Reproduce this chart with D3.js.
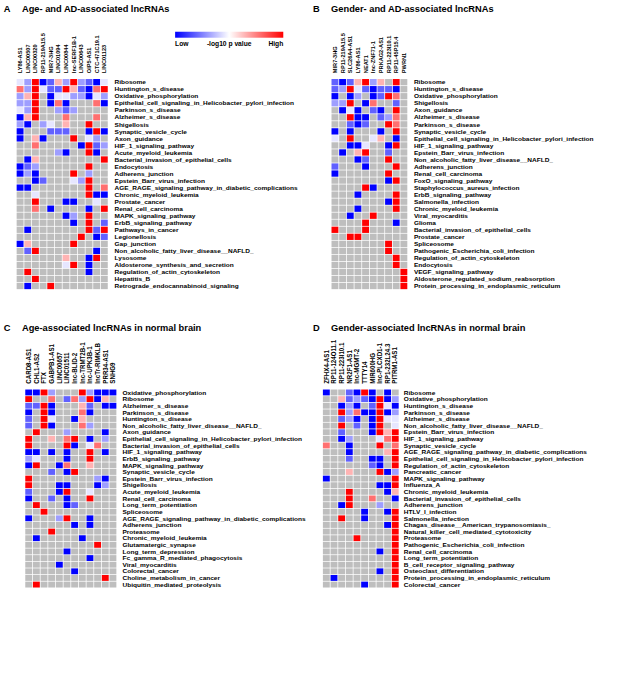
<!DOCTYPE html>
<html>
<head>
<meta charset="utf-8">
<script src="https://cdn.jsdelivr.net/npm/d3@7"></script>
<style>
  body { margin: 0; background: #fff; }
  text { font-family: "Liberation Sans", Arial, sans-serif; font-weight: bold; fill: #000; }
</style>
</head>
<body>
<div id="chart"></div>
<script>
// cell codes: B strong blue .. w white .. R strong red, g = not significant (grey)
var codeValue = {B: 0, b: 0.19, l: 0.31, w: 0.45, p: 0.65, r: 0.78, R: 1}

var colsA = ['LY86-AS1', 'LINC00507', 'LINC00320', 'RP11-219A15.5', 'MIR7-3HG', 'LINC01094',
  'LINC00844', 'lnc-SERF1B-1', 'LINC00643', 'OIP5-AS1', 'CTC-471C19.1', 'LINC01123']
var rowsA = ['Ribosome', 'Huntington_s_disease', 'Oxidative_phosphorylation',
  'Epithelial_cell_signaling_in_Helicobacter_pylori_infection', 'Parkinson_s_disease',
  'Alzheimer_s_disease', 'Shigellosis', 'Synaptic_vesicle_cycle', 'Axon_guidance',
  'HIF_1_signaling_pathway', 'Acute_myeloid_leukemia', 'Bacterial_invasion_of_epithelial_cells',
  'Endocytosis', 'Adherens_junction', 'Epstein_Barr_virus_infection',
  'AGE_RAGE_signaling_pathway_in_diabetic_complications', 'Chronic_myeloid_leukemia',
  'Prostate_cancer', 'Renal_cell_carcinoma', 'MAPK_signaling_pathway', 'ErbB_signaling_pathway',
  'Pathways_in_cancer', 'Legionellosis', 'Gap_junction', 'Non_alcoholic_fatty_liver_disease__NAFLD_',
  'Lysosome', 'Aldosterone_synthesis_and_secretion', 'Regulation_of_actin_cytoskeleton',
  'Hepatitis_B', 'Retrograde_endocannabinoid_signaling']
var cellsA = ['wlRBbplRlbBw', 'rlRwbbRpbBrR', 'lpRgBwwllBwl', 'llRgBrBgggrB', 'wlRgglblgggg',
  'BpRgggrgggrg', 'lBglwgpggRgg', 'BgggbbbggBRB', 'BgpBgggRgwlg', 'ggrgggggBRbl',
  'ggggglBggRBg', 'gBpggggggggR', 'BblggggggRgg', 'BlBggggRglgg', 'ggBbgggwlRgg',
  'BBgggggggRgr', 'ggwggggggRBB', 'ggRgggBBggwg', 'ggrgBggggBgR', 'ggggggBlgRgg',
  'gggggggBgRgb', 'gBgggggggRbR', 'ggggggggRgBb', 'BpgggggRgggg', 'gbRgggggggBg',
  'ggggggpggBRg', 'ggggggwRgBgg', 'gRgggggggBgg', 'ggRggggggggg', 'gBggRggggggg']

var colsB = ['MIR7-3HG', 'RP11-219A15.5', 'SLC26A4-AS1', 'LY86-AS1', 'NEAT1', 'lnc-ZNF71-1',
  'PRKAG2-AS1', 'RP11-223I10.1', 'RP11-45P15.4', 'PWRN1']
var rowsB = ['Ribosome', 'Huntington_s_disease', 'Oxidative_phosphorylation', 'Shigellosis',
  'Axon_guidance', 'Alzheimer_s_disease', 'Parkinson_s_disease', 'Synaptic_vesicle_cycle',
  'Epithelial_cell_signaling_in_Helicobacter_pylori_infection', 'HIF_1_signaling_pathway',
  'Epstein_Barr_virus_infection', 'Non_alcoholic_fatty_liver_disease__NAFLD_', 'Adherens_junction',
  'Renal_cell_carcinoma', 'FoxO_signaling_pathway', 'Staphylococcus_aureus_infection',
  'ErbB_signaling_pathway', 'Salmonella_infection', 'Chronic_myeloid_leukemia', 'Viral_myocarditis',
  'Glioma', 'Bacterial_invasion_of_epithelial_cells', 'Prostate_cancer', 'Spliceosome',
  'Pathogenic_Escherichia_coli_infection', 'Regulation_of_actin_cytoskeleton', 'Endocytosis',
  'VEGF_signaling_pathway', 'Aldosterone_regulated_sodium_reabsorption',
  'Protein_processing_in_endoplasmic_reticulum']
var cellsB = ['bBbpRlpgRg', 'blRwbBbbBg', 'BgBlgBbRrg', 'llRgBrggbg', 'gBwBgbBgRg',
  'ggRBBgblrg', 'ggbBbggRrg', 'BgBgggBgRg', 'wgRggwpgBg', 'ggBBwggBRg',
  'gBgpRggbgg', 'gggBbggRgg', 'bgggBgggRg', 'BggggggRgg', 'gggggggBRg',
  'ggggRBgggg', 'gggBggggRg', 'gggggggBRg', 'gggBggggRg', 'ggBggRgggg',
  'ggggRgggBg', 'RgggRggggg', 'ggRRgggggg', 'gggggggRgg', 'gggggggRgg',
  'ggggggggRg', 'ggggggggRg', 'gggggggggR', 'gggggggggR', 'gggggggggR']

var colsC = ['CARD8-AS1', 'CHL1-AS2', 'FTX', 'GABPB1-AS1', 'LINC00657', 'LINC01511', 'lnc-BLID-2',
  'lnc-TRMT2B-1', 'lnc-UPK3B-1', 'lncTr-RIMKLB', 'PRR34-AS1', 'SNHG9']
var rowsC = ['Oxidative_phosphorylation', 'Ribosome', 'Alzheimer_s_disease', 'Parkinson_s_disease',
  'Huntington_s_disease', 'Non_alcoholic_fatty_liver_disease__NAFLD_', 'Axon_guidance',
  'Epithelial_cell_signaling_in_Helicobacter_pylori_infection', 'Bacterial_invasion_of_epithelial_cells',
  'HIF_1_signaling_pathway', 'ErbB_signaling_pathway', 'MAPK_signaling_pathway',
  'Synaptic_vesicle_cycle', 'Epstein_Barr_virus_infection', 'Shigellosis', 'Acute_myeloid_leukemia',
  'Renal_cell_carcinoma', 'Long_term_potentiation', 'Spliceosome',
  'AGE_RAGE_signaling_pathway_in_diabetic_complications', 'Adherens_junction', 'Proteasome',
  'Chronic_myeloid_leukemia', 'Glutamatergic_synapse', 'Long_term_depression',
  'Fc_gamma_R_mediated_phagocytosis', 'Viral_myocarditis', 'Colorectal_cancer',
  'Choline_metabolism_in_cancer', 'Ubiquitin_mediated_proteolysis']
var cellsC = ['BBRlgggRlBBB', 'RggrgbrlRBpg', 'bbRBgggpbgBB', 'BgRBgggrBggg', 'bgRwggBpgggg',
  'bgRBgggrlggg', 'gRggglggggBg', 'RggpgrRgBglg', 'RggggRBgwrgg', 'BBgBgBggRgBg',
  'lwgggBggRggg', 'BRggBrggpggg', 'gggbgBRggggg', 'RgggggggglBg', 'RgggBBgggBlg',
  'bgggBRggwggg', 'BggbgBggRggg', 'gRgggBbggggg', 'ggRggggggggg', 'BggglRggBggg',
  'ggggggBgBggg', 'gggRgggggggg', 'gBgggggBgggg', 'gggggggggRgg', 'gggggBgggggg',
  'ggggggggBggg', 'ggggBggggggg', 'ggggggBggggg', 'ggggggggggRg', 'gRgggggggggg']

var colsD = ['ZFHX4-AS1', 'RP11-124O11.1', 'RP11-223I10.1', 'NR2F1-AS1', 'lnc-MGMT-2', 'TTTY14',
  'MIR600HG', 'lnc-PLCXD1-1', 'RP1-232L24.3', 'PITRM1-AS1']
var rowsD = ['Ribosome', 'Oxidative_phosphorylation', 'Huntington_s_disease', 'Parkinson_s_disease',
  'Alzheimer_s_disease', 'Non_alcoholic_fatty_liver_disease__NAFLD_', 'Epstein_Barr_virus_infection',
  'HIF_1_signaling_pathway', 'Synaptic_vesicle_cycle',
  'AGE_RAGE_signaling_pathway_in_diabetic_complications',
  'Epithelial_cell_signaling_in_Helicobacter_pylori_infection', 'Regulation_of_actin_cytoskeleton',
  'Pancreatic_cancer', 'MAPK_signaling_pathway', 'Influenza_A', 'Chronic_myeloid_leukemia',
  'Bacterial_invasion_of_epithelial_cells', 'Adherens_junction', 'HTLV_I_infection',
  'Salmonella_infection', 'Chagas_disease__American_trypanosomiasis_',
  'Natural_killer_cell_mediated_cytotoxicity', 'Proteasome', 'Pathogenic_Escherichia_coli_infection',
  'Renal_cell_carcinoma', 'Long_term_potentiation', 'B_cell_receptor_signaling_pathway',
  'Osteoclast_differentiation', 'Protein_processing_in_endoplasmic_reticulum', 'Colorectal_cancer']
var cellsD = ['BggbBRBgBg', 'ggpblbBRBl', 'ggBlBgbRwB', 'ggRlrBBRBl', 'ggblBgBRww',
  'ggRgbgBRgw', 'ggbgggBRpR', 'ggBlgggwrR', 'rggBgggRgr', 'gggBggggpR',
  'gggbggBBgR', 'ggggggbBgR', 'gggpgggRBl', 'BggggggggR', 'gggggggBBR',
  'gggRggggBp', 'gggRggrggB', 'ggBRggglgg', 'gggggBggBR', 'ggRggBgggR',
  'ggggggggBR', 'gggggggggR', 'ggggRggggR', 'gggggggggR', 'gggggggBgR',
  'gggggggggR', 'gggggggggR', 'gggggggBgR', 'gBgggggggR', 'gggggBgggR']

var legendLabels = ['Low', '-log10 p value', 'High']

var width = 625
var height = 675

var color = d3.scaleLinear()
  .domain([0, 0.5, 1])
  .range(['#0000ff', '#ffffff', '#ff0000'])
var naColor = '#bebebe'

var svg = d3.select('#chart').append('svg')
  .attr('width', width)
  .attr('height', height)

svg.append('rect').attr('width', width).attr('height', height).attr('fill', '#fff')

// the figure was laid out on a larger page and squeezed into 625x675
var fig = svg.append('g').attr('transform', 'scale(0.957,0.92)')

var panels = [
  {letter: 'A', title: 'Age- and AD-associated lncRNAs', cols: colsA, rows: rowsA, cells: cellsA,
    x0: 17, y0: 85.5, cw: 8, ch: 7.64, tx: 4, ty: 13, colFont: 6.1, gap: 6.7},
  {letter: 'B', title: 'Gender- and AD-associated lncRNAs', cols: colsB, rows: rowsB, cells: cellsB,
    x0: 346, y0: 85.5, cw: 8, ch: 7.64, tx: 327, ty: 13, colFont: 6.1, gap: 6.5},
  {letter: 'C', title: 'Age-associated lncRNAs in normal brain', cols: colsC, rows: rowsC, cells: cellsC,
    x0: 26, y0: 423, cw: 8, ch: 7.2, tx: 4, ty: 360, colFont: 6.7, gap: 6},
  {letter: 'D', title: 'Gender-associated lncRNAs in normal brain', cols: colsD, rows: rowsD, cells: cellsD,
    x0: 337, y0: 423, cw: 8, ch: 7.2, tx: 327, ty: 360, colFont: 6.7, gap: 5}
]

panels.forEach(drawPanel)

function drawPanel (p) {
  var g = fig.append('g')

  g.append('text')
    .attr('x', p.tx).attr('y', p.ty)
    .attr('font-size', '9.7px')
    .text(p.letter)
  g.append('text')
    .attr('x', p.tx + 19).attr('y', p.ty)
    .attr('font-size', '9.7px')
    .text(p.title)

  var x = d3.scaleBand().domain(p.cols).range([p.x0, p.x0 + p.cols.length * p.cw])
  var y = d3.scaleBand().domain(p.rows).range([p.y0, p.y0 + p.rows.length * p.ch])

  var data = []
  p.cells.forEach(function (s, i) {
    s.split('').forEach(function (c, j) {
      data.push({row: p.rows[i], col: p.cols[j], v: c === 'g' ? null : codeValue[c]})
    })
  })

  g.selectAll('.cell')
    .data(data)
    .enter().append('rect')
    .attr('class', 'cell')
    .attr('x', d => x(d.col) + 0.4)
    .attr('y', d => y(d.row) + 0.4)
    .attr('width', x.bandwidth() - 0.8)
    .attr('height', y.bandwidth() - 0.8)
    .attr('fill', d => d.v === null ? naColor : color(d.v))

  // column labels, rotated
  g.selectAll('.collab')
    .data(p.cols)
    .enter().append('text')
    .attr('class', 'collab')
    .attr('transform', d => 'translate(' + (x(d) + x.bandwidth() / 2) + ',' + (p.y0 - 6) + ') rotate(-90)')
    .attr('dy', '0.35em')
    .attr('font-size', p.colFont + 'px')
    .text(d => d)

  var lx = x.range()[1] + p.gap
  g.selectAll('.rowlab')
    .data(p.rows)
    .enter().append('text')
    .attr('class', 'rowlab')
    .attr('x', lx)
    .attr('y', d => y(d) + y.bandwidth() / 2)
    .attr('dy', '0.35em')
    .attr('font-size', '6.8px')
    .text(d => d)
}

// colour key
var defs = svg.append('defs')
var grad = defs.append('linearGradient').attr('id', 'key')
d3.range(0, 1.01, 0.1).forEach(function (t) {
  grad.append('stop').attr('offset', t).attr('stop-color', color(t))
})
var kx = d3.scaleLinear().domain([0, 1]).range([183, 296])
fig.append('rect')
  .attr('x', kx(0)).attr('y', 34.5)
  .attr('width', kx(1) - kx(0)).attr('height', 6.5)
  .attr('fill', 'url(#key)')
fig.selectAll('.keylab')
  .data(legendLabels)
  .enter().append('text')
  .attr('class', 'keylab')
  .attr('x', (d, i) => kx(i / 2))
  .attr('y', 50)
  .attr('text-anchor', (d, i) => ['start', 'middle', 'end'][i])
  .attr('font-size', '7px')
  .text(d => d)
</script>
</body>
</html>
